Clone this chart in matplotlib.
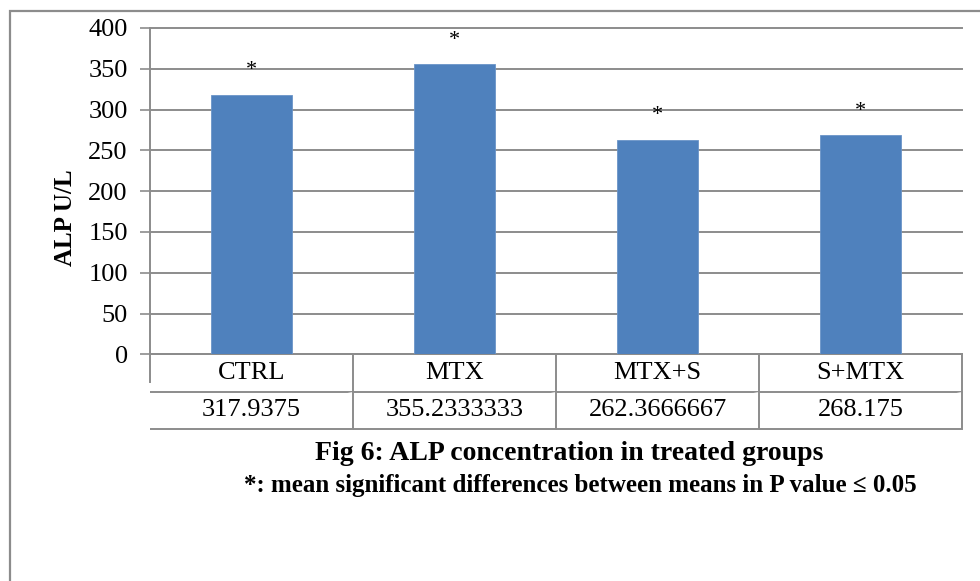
import matplotlib.pyplot as plt
from matplotlib.patches import Rectangle

groups = ['CTRL', 'MTX', 'MTX+S', 'S+MTX']
alp_means = [317.9375, 355.2333333, 262.3666667, 268.175]
alp_labels = ['317.9375', '355.2333333', '262.3666667', '268.175']
sig_marks = ['*', '*', '*', '*']
y_ticks = [0, 50, 100, 150, 200, 250, 300, 350, 400]

plt.rcParams['font.family'] = ['Liberation Serif', 'DejaVu Serif']

fig = plt.figure(figsize=(9.8, 5.81), dpi=100)
ax = fig.add_axes([0.153, 0.390, 0.829, 0.562])

# outer frame of the picture (only top and left visible)
fig.patches.append(Rectangle((10 / 980, -0.5), 1.2, 1.5 - 11 / 581, transform=fig.transFigure,
                             fill=False, edgecolor='#8c8c8c', linewidth=1.6))

x = range(len(groups))
ax.bar(x, alp_means, width=0.4, color='#4F81BD', edgecolor='#6b95c8', linewidth=0.6, zorder=3)
for i, v in enumerate(alp_means):
    ax.annotate(sig_marks[i], (i, v), xytext=(0, 17.5), textcoords='offset points',
                ha='center', va='center', fontsize=16, zorder=4)

ax.set_xlim(-0.5, len(groups) - 0.5)
ax.set_ylim(0, 400)
ax.set_yticks(y_ticks)
ax.set_yticklabels([str(t) for t in y_ticks], fontsize=19)
ax.set_xticks([])
ax.yaxis.grid(True, color='#8c8c8c', linewidth=1.4, zorder=0)
for gl in ax.get_ygridlines():
    gl.set_clip_on(False)
ax.tick_params(axis='y', length=7, width=1.2, color='#8c8c8c', pad=9)
for s in ['top', 'right']:
    ax.spines[s].set_visible(False)
ax.spines['left'].set_color('#8c8c8c')
ax.spines['left'].set_linewidth(1.4)
ax.spines['bottom'].set_color('#8c8c8c')
ax.spines['bottom'].set_linewidth(1.4)
ax.set_ylabel('ALP U/L', fontsize=18, fontweight='bold')
ax.yaxis.set_label_coords(-0.090, 0.42)
ax.plot([0, 0], [0, -0.083], transform=ax.transAxes, color='#8c8c8c', lw=1.4, clip_on=False)

tbl = ax.table(cellText=[groups, alp_labels], cellLoc='center',
               bbox=[0, -0.229, 1, 0.229])
tbl.auto_set_font_size(False)
for (r, c), cell in tbl.get_celld().items():
    cell.set_edgecolor('#8c8c8c')
    cell.set_linewidth(1.4)
    cell.visible_edges = 'BR'
    cell.get_text().set_fontsize(19)

fig.text(0.581, 0.220, 'Fig 6: ALP concentration in treated groups', ha='center', va='center',
         fontsize=20, fontweight='bold')
fig.text(0.592, 0.165, '*: mean significant differences between means in P value \u2264 0.05',
         ha='center', va='center', fontsize=18, fontweight='bold')

fig.savefig('out.png', dpi=100)
